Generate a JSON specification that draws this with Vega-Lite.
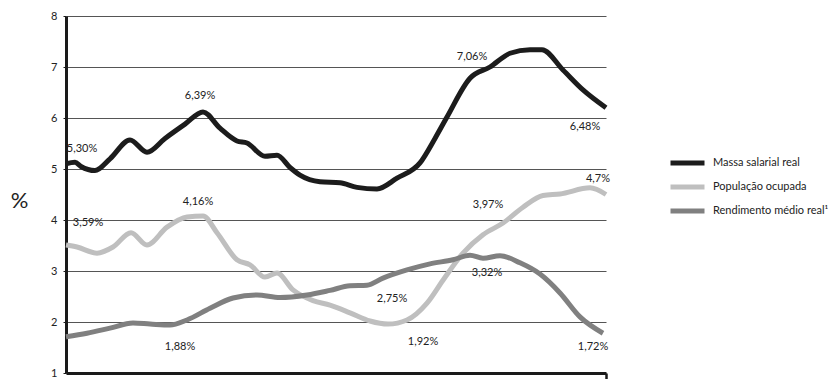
{
  "$schema": "https://vega.github.io/schema/vega-lite/v6.json",
  "width": 540,
  "height": 357,
  "autosize": "none",
  "padding": {"left": 66, "top": 16, "right": 230, "bottom": 6},
  "background": "white",
  "config": {
    "view": {"stroke": null},
    "font": "Lato",
    "axis": {"labelFont": "Lato", "titleFont": "Lato"}
  },
  "datasets": {
    "series": [
      {"s": "Massa salarial real", "t": 0, "v": 5.1},
      {"s": "Massa salarial real", "t": 0.9, "v": 5.13},
      {"s": "Massa salarial real", "t": 1.5, "v": 5.05},
      {"s": "Massa salarial real", "t": 2.9, "v": 4.97},
      {"s": "Massa salarial real", "t": 4.4, "v": 5.2},
      {"s": "Massa salarial real", "t": 6.4, "v": 5.57},
      {"s": "Massa salarial real", "t": 8.1, "v": 5.33},
      {"s": "Massa salarial real", "t": 9.9, "v": 5.6},
      {"s": "Massa salarial real", "t": 11.9, "v": 5.88},
      {"s": "Massa salarial real", "t": 13.7, "v": 6.12},
      {"s": "Massa salarial real", "t": 15.4, "v": 5.8},
      {"s": "Massa salarial real", "t": 17.1, "v": 5.55},
      {"s": "Massa salarial real", "t": 18.1, "v": 5.51},
      {"s": "Massa salarial real", "t": 19.9, "v": 5.25},
      {"s": "Massa salarial real", "t": 21.1, "v": 5.27},
      {"s": "Massa salarial real", "t": 22.4, "v": 5.03},
      {"s": "Massa salarial real", "t": 23.4, "v": 4.88},
      {"s": "Massa salarial real", "t": 25.4, "v": 4.75},
      {"s": "Massa salarial real", "t": 27.4, "v": 4.73},
      {"s": "Massa salarial real", "t": 29.1, "v": 4.64},
      {"s": "Massa salarial real", "t": 31.1, "v": 4.61},
      {"s": "Massa salarial real", "t": 33.1, "v": 4.82},
      {"s": "Massa salarial real", "t": 35.4, "v": 5.12},
      {"s": "Massa salarial real", "t": 36.9, "v": 5.6},
      {"s": "Massa salarial real", "t": 38.1, "v": 6.02},
      {"s": "Massa salarial real", "t": 40.4, "v": 6.78},
      {"s": "Massa salarial real", "t": 42.4, "v": 7.0},
      {"s": "Massa salarial real", "t": 44.4, "v": 7.27},
      {"s": "Massa salarial real", "t": 46.4, "v": 7.34},
      {"s": "Massa salarial real", "t": 47.6, "v": 7.34},
      {"s": "Massa salarial real", "t": 49.7, "v": 6.94},
      {"s": "Massa salarial real", "t": 51.7, "v": 6.55},
      {"s": "Massa salarial real", "t": 54, "v": 6.2},
      {"s": "População ocupada", "t": 0, "v": 3.51},
      {"s": "População ocupada", "t": 1.1, "v": 3.47},
      {"s": "População ocupada", "t": 3.1, "v": 3.35},
      {"s": "População ocupada", "t": 4.7, "v": 3.47},
      {"s": "População ocupada", "t": 6.5, "v": 3.75},
      {"s": "População ocupada", "t": 8.1, "v": 3.51},
      {"s": "População ocupada", "t": 10.1, "v": 3.86},
      {"s": "População ocupada", "t": 12.1, "v": 4.06},
      {"s": "População ocupada", "t": 13.7, "v": 4.08},
      {"s": "População ocupada", "t": 15.1, "v": 3.75},
      {"s": "População ocupada", "t": 17.1, "v": 3.22},
      {"s": "População ocupada", "t": 18.4, "v": 3.12},
      {"s": "População ocupada", "t": 19.9, "v": 2.88},
      {"s": "População ocupada", "t": 21.1, "v": 2.96},
      {"s": "População ocupada", "t": 22.7, "v": 2.63},
      {"s": "População ocupada", "t": 24.7, "v": 2.42},
      {"s": "População ocupada", "t": 26.4, "v": 2.33},
      {"s": "População ocupada", "t": 28.4, "v": 2.18},
      {"s": "População ocupada", "t": 30.4, "v": 2.02},
      {"s": "População ocupada", "t": 32.2, "v": 1.96},
      {"s": "População ocupada", "t": 34.1, "v": 2.04},
      {"s": "População ocupada", "t": 36.1, "v": 2.37},
      {"s": "População ocupada", "t": 37.7, "v": 2.82},
      {"s": "População ocupada", "t": 39.7, "v": 3.35},
      {"s": "População ocupada", "t": 41.7, "v": 3.71},
      {"s": "População ocupada", "t": 43.7, "v": 3.94},
      {"s": "População ocupada", "t": 45.7, "v": 4.25},
      {"s": "População ocupada", "t": 47.7, "v": 4.48},
      {"s": "População ocupada", "t": 49.4, "v": 4.51},
      {"s": "População ocupada", "t": 52.4, "v": 4.63},
      {"s": "População ocupada", "t": 54, "v": 4.5},
      {"s": "Rendimento médio real¹", "t": 0, "v": 1.71},
      {"s": "Rendimento médio real¹", "t": 2.1, "v": 1.78},
      {"s": "Rendimento médio real¹", "t": 4.4, "v": 1.88},
      {"s": "Rendimento médio real¹", "t": 6.7, "v": 1.98},
      {"s": "Rendimento médio real¹", "t": 8.4, "v": 1.96},
      {"s": "Rendimento médio real¹", "t": 10.4, "v": 1.94},
      {"s": "Rendimento médio real¹", "t": 12.1, "v": 2.04},
      {"s": "Rendimento médio real¹", "t": 14.4, "v": 2.27},
      {"s": "Rendimento médio real¹", "t": 16.7, "v": 2.47},
      {"s": "Rendimento médio real¹", "t": 19.1, "v": 2.53},
      {"s": "Rendimento médio real¹", "t": 21.4, "v": 2.48},
      {"s": "Rendimento médio real¹", "t": 24.1, "v": 2.53},
      {"s": "Rendimento médio real¹", "t": 26.4, "v": 2.62},
      {"s": "Rendimento médio real¹", "t": 28.4, "v": 2.71},
      {"s": "Rendimento médio real¹", "t": 30.1, "v": 2.72},
      {"s": "Rendimento médio real¹", "t": 31.7, "v": 2.86},
      {"s": "Rendimento médio real¹", "t": 34.1, "v": 3.02},
      {"s": "Rendimento médio real¹", "t": 36.4, "v": 3.14},
      {"s": "Rendimento médio real¹", "t": 38.7, "v": 3.22},
      {"s": "Rendimento médio real¹", "t": 40.4, "v": 3.31},
      {"s": "Rendimento médio real¹", "t": 41.7, "v": 3.25},
      {"s": "Rendimento médio real¹", "t": 43.4, "v": 3.3},
      {"s": "Rendimento médio real¹", "t": 45.4, "v": 3.16},
      {"s": "Rendimento médio real¹", "t": 47.4, "v": 2.94},
      {"s": "Rendimento médio real¹", "t": 49.4, "v": 2.57},
      {"s": "Rendimento médio real¹", "t": 51.4, "v": 2.1},
      {"s": "Rendimento médio real¹", "t": 53.7, "v": 1.78}
    ],
    "labels": [
      {"label": "5,30%", "t": 1.6, "v": 5.39},
      {"label": "6,39%", "t": 13.4, "v": 6.43},
      {"label": "4,16%", "t": 13.2, "v": 4.35},
      {"label": "3,59%", "t": 2.2, "v": 3.94},
      {"label": "1,88%", "t": 11.4, "v": 1.51},
      {"label": "7,06%", "t": 40.6, "v": 7.2},
      {"label": "6,48%", "t": 51.9, "v": 5.82},
      {"label": "4,7%", "t": 53.2, "v": 4.8},
      {"label": "3,97%", "t": 42.2, "v": 4.29},
      {"label": "3,32%", "t": 42.1, "v": 2.96},
      {"label": "2,75%", "t": 32.6, "v": 2.45},
      {"label": "1,92%", "t": 35.7, "v": 1.61},
      {"label": "1,72%", "t": 52.7, "v": 1.51}
    ]
  },
  "layer": [
    {
      "data": {"name": "series"},
      "mark": {"type": "line", "interpolate": "monotone", "strokeWidth": 5, "strokeJoin": "round", "strokeCap": "butt"},
      "encoding": {
        "x": {
          "field": "t", "type": "quantitative",
          "scale": {"domain": [0, 54], "nice": false, "zero": false},
          "axis": {
            "values": [54], "labels": false, "title": null, "grid": false,
            "domainColor": "#1a1a1a", "domainWidth": 3,
            "tickColor": "#1a1a1a", "tickWidth": 2.5, "tickSize": 7
          }
        },
        "y": {
          "field": "v", "type": "quantitative",
          "scale": {"domain": [1, 8], "nice": false, "zero": false},
          "axis": {
            "values": [1, 2, 3, 4, 5, 6, 7, 8],
            "title": "%", "titleAngle": 0, "titleFontSize": 22, "titleFontWeight": "normal",
            "titleX": -47, "titleY": 184, "titleAlign": "center", "titleBaseline": "middle",
            "titleColor": "#222",
            "labelFontSize": 11, "labelColor": "#222", "labelPadding": 6,
            "domainColor": "#1a1a1a", "domainWidth": 3,
            "tickColor": "#1a1a1a", "tickSize": 3, "tickWidth": 1,
            "gridColor": "#555", "gridWidth": 1, "gridOpacity": 1
          }
        },
        "color": {
          "field": "s", "type": "nominal",
          "scale": {
            "domain": ["Massa salarial real", "População ocupada", "Rendimento médio real¹"],
            "range": ["#1c1c1c", "#bfbfbf", "#808080"]
          },
          "legend": {
            "title": null, "orient": "none", "legendX": 602, "legendY": 141,
            "symbolType": "stroke", "symbolSize": 1156, "symbolStrokeWidth": 5,
            "labelFontSize": 11, "labelColor": "#222", "labelOffset": 6,
            "clipHeight": 12, "rowPadding": 12
          }
        }
      }
    },
    {
      "data": {"name": "labels"},
      "mark": {"type": "text", "fontSize": 11, "color": "#222", "align": "center", "baseline": "middle"},
      "encoding": {
        "x": {"field": "t", "type": "quantitative"},
        "y": {"field": "v", "type": "quantitative"},
        "text": {"field": "label", "type": "nominal"}
      }
    }
  ]
}
